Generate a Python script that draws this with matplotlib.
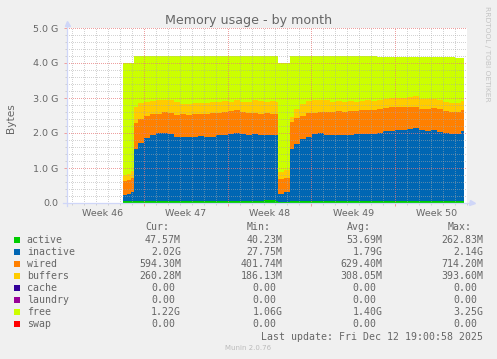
import matplotlib
matplotlib.use("Agg")
import matplotlib.pyplot as plt
from matplotlib.patches import Rectangle

# sample start times, days from the left edge of the graph (each value holds until the next one)
days = [4.75, 5.05, 5.35,
        5.67, 6.0, 6.5, 7.0, 7.5, 8.0, 8.5, 9.0, 9.5, 10.0, 10.5, 11.0, 11.5,
        12.0, 12.5, 13.0, 13.5, 14.0, 14.5, 15.0, 15.5, 16.0, 16.5, 17.0, 17.5,
        17.67, 18.17,
        18.67, 19.0, 19.5, 20.0, 20.5, 21.0, 21.5, 22.0, 22.5, 23.0, 23.5, 24.0,
        24.5, 25.0, 25.5, 26.0, 26.5, 27.0, 27.5, 28.0, 28.5, 29.0, 29.5, 30.0,
        30.5, 31.0, 31.5, 32.0, 32.5, 33.0]
last_day = 33.25

# values in G
active = [0.05, 0.05, 0.05,
          0.05, 0.05, 0.05, 0.05, 0.05, 0.05, 0.05, 0.05, 0.05, 0.05, 0.05, 0.05, 0.05,
          0.05, 0.05, 0.05, 0.05, 0.05, 0.05, 0.05, 0.05, 0.05, 0.10, 0.09, 0.05,
          0.04, 0.04,
          0.05, 0.05, 0.05, 0.05, 0.05, 0.05, 0.05, 0.05, 0.05, 0.05, 0.05, 0.05,
          0.05, 0.05, 0.05, 0.05, 0.05, 0.05, 0.05, 0.05, 0.05, 0.05, 0.05, 0.05,
          0.05, 0.05, 0.05, 0.05, 0.05, 0.05]
inactive = [0.18, 0.22, 0.27,
            1.50, 1.67, 1.80, 1.90, 1.95, 1.95, 1.93, 1.85, 1.84, 1.85, 1.83, 1.86, 1.84,
            1.85, 1.88, 1.89, 1.92, 1.95, 1.91, 1.90, 1.92, 1.90, 1.83, 1.85, 1.88,
            0.21, 0.28,
            1.50, 1.64, 1.77, 1.85, 1.91, 1.95, 1.90, 1.88, 1.89, 1.88, 1.90, 1.92,
            1.91, 1.93, 1.92, 1.95, 2.00, 2.02, 2.03, 2.04, 2.07, 2.09, 2.03, 2.01,
            2.05, 1.99, 1.94, 1.92, 1.91, 2.02]
wired = [0.40, 0.39, 0.40,
         0.74, 0.69, 0.63, 0.58, 0.55, 0.60, 0.59, 0.62, 0.64, 0.62, 0.66, 0.64, 0.64,
         0.66, 0.65, 0.66, 0.66, 0.65, 0.64, 0.63, 0.59, 0.60, 0.63, 0.61, 0.62,
         0.43, 0.40,
         0.76, 0.73, 0.68, 0.66, 0.62, 0.60, 0.65, 0.67, 0.68, 0.67, 0.68, 0.67,
         0.69, 0.68, 0.68, 0.68, 0.67, 0.67, 0.65, 0.65, 0.63, 0.60, 0.62, 0.64,
         0.62, 0.64, 0.63, 0.63, 0.64, 0.58]
buffers = [0.18, 0.18, 0.20,
           0.46, 0.44, 0.42, 0.39, 0.39, 0.35, 0.36, 0.36, 0.31, 0.31, 0.31, 0.32, 0.33,
           0.32, 0.32, 0.32, 0.27, 0.28, 0.29, 0.32, 0.37, 0.36, 0.34, 0.37, 0.35,
           0.22, 0.23,
           0.15, 0.28, 0.32, 0.36, 0.37, 0.35, 0.33, 0.30, 0.30, 0.30, 0.28, 0.26,
           0.27, 0.27, 0.26, 0.26, 0.26, 0.26, 0.26, 0.26, 0.29, 0.32, 0.27, 0.26,
           0.26, 0.25, 0.26, 0.26, 0.25, 0.26]
cache = [0.0] * len(days)
laundry = [0.0] * len(days)
free = [3.20, 3.16, 3.08,
        1.45, 1.35, 1.30, 1.28, 1.26, 1.25, 1.27, 1.32, 1.36, 1.37, 1.35, 1.33, 1.34,
        1.32, 1.30, 1.28, 1.30, 1.27, 1.31, 1.30, 1.27, 1.29, 1.30, 1.28, 1.30,
        3.10, 3.05,
        1.73, 1.49, 1.37, 1.27, 1.24, 1.24, 1.26, 1.29, 1.27, 1.29, 1.28, 1.29,
        1.27, 1.26, 1.28, 1.22, 1.18, 1.16, 1.17, 1.16, 1.12, 1.10, 1.19, 1.20,
        1.18, 1.23, 1.28, 1.30, 1.28, 1.22]
swap = [0.0] * len(days)

names = ["active", "inactive", "wired", "buffers", "cache", "laundry", "free", "swap"]
colors = ["#00cc00", "#0066b3", "#ff8000", "#ffcc00", "#330099", "#990099", "#ccff00", "#ff0000"]
cur = ["47.57M", "2.02G", "594.30M", "260.28M", "0.00", "0.00", "1.22G", "0.00"]
mins = ["40.23M", "27.75M", "401.74M", "186.13M", "0.00", "0.00", "1.06G", "0.00"]
avgs = ["53.69M", "1.79G", "629.40M", "308.05M", "0.00", "0.00", "1.40G", "0.00"]
maxs = ["262.83M", "2.14G", "714.20M", "393.60M", "0.00", "0.00", "3.25G", "0.00"]

week_labels = ["Week 46", "Week 47", "Week 48", "Week 49", "Week 50"]
ytick_labels = ["0.0", "1.0 G", "2.0 G", "3.0 G", "4.0 G", "5.0 G"]

W, H = 497.0, 359.0
def fx(x):
    return x / W
def fy(y):
    return 1 - y / H

font_c = "#666666"
axis_c = "#cfd6f8"
grid_c = "#a8a8a8"
mgrid_c = "#e87878"
dots = (0, (1, 1.6))

fig = plt.figure(figsize=(W / 100, H / 100), dpi=100)
fig.patch.set_facecolor("#f0f0f0")
ax = fig.add_axes([fx(66.7), fy(203), 400 / W, 175 / H])
ax.set_facecolor("white")
ax.set_xlim(0, 400 / 12.0)
ax.set_ylim(0, 5)
for s in ax.spines.values():
    s.set_visible(False)

# stacked areas
series = [active, inactive, wired, buffers, cache, laundry, free, swap]
xs = days + [last_day]
base = [0.0] * len(days)
for vals, col in zip(series, colors):
    top = [b + v for b, v in zip(base, vals)]
    ax.fill_between(xs, base + [base[-1]], top + [top[-1]], step="post",
                    color=col, lw=0, antialiased=False, zorder=1)
    base = top

# grid (drawn over the data like rrdtool)
week_lines = [6.47 + 7 * k for k in range(4)]
day_lines = [0.47 + k for k in range(34) if (k - 6) % 7 != 0]
for t in day_lines:
    ax.axvline(t, color=grid_c, alpha=0.5, lw=0.72, ls=dots, antialiased=False, zorder=2)
for t in week_lines:
    ax.axvline(t, color=mgrid_c, alpha=0.7, lw=0.72, ls=dots, antialiased=False, zorder=3)
ygrid_minor = [k * 0.2 for k in range(1, 25) if k % 5 != 0]
for v in ygrid_minor:
    ax.axhline(v, color=grid_c, alpha=0.5, lw=0.72, ls=dots, antialiased=False, zorder=2)
for v in range(1, 6):
    ax.axhline(v, color=mgrid_c, alpha=0.7, lw=0.72, ls=dots, antialiased=False,
               zorder=3, clip_on=False)

# ticks
ax.set_xticks(week_lines)
ax.set_xticks(day_lines, minor=True)
ax.set_xticklabels([])
ax.set_yticks(range(6))
ax.set_yticklabels(ytick_labels)
ax.set_yticks(ygrid_minor, minor=True)
ax.tick_params(axis="both", which="major", length=2.2, width=0.72, color="#f0a0a0",
               direction="out", labelsize=6.8, labelcolor=font_c, pad=3.6)
ax.tick_params(axis="both", which="minor", length=1.5, width=0.72, color="#d0d0d0",
               direction="out")
for t, lab in zip([2.97 + 7 * k for k in range(5)], week_labels):
    ax.annotate(lab, xy=(t, 0), xycoords=("data", "axes fraction"),
                xytext=(0, -9.1), textcoords="offset points",
                ha="center", va="baseline", fontsize=6.8, color=font_c)

# axes with arrows
ax.plot([0, 0], [-0.015, 1.025], transform=ax.transAxes, color=axis_c, lw=0.9,
        clip_on=False, zorder=5)
ax.plot([0], [1.03], transform=ax.transAxes, marker="^", ms=3.6, color=axis_c,
        clip_on=False, zorder=5)
ax.plot([-0.01, 1.005], [0, 0], transform=ax.transAxes, color=axis_c, lw=0.9,
        clip_on=False, zorder=5)
ax.plot([1.012], [0], transform=ax.transAxes, marker=">", ms=3.6, color=axis_c,
        clip_on=False, zorder=5)

# titles
fig.text(fx(248.5), fy(23.6), "Memory usage - by month", ha="center", va="baseline",
         fontsize=9.1, color=font_c)
fig.text(fx(11), fy(118), "Bytes", rotation=90, ha="center", va="center",
         fontsize=7.6, color=font_c)
fig.text(fx(487.5), fy(53.5), "RRDTOOL / TOBI OETIKER", rotation=270, ha="center",
         va="center", fontsize=5.4, color="#c4c4c4")

# legend table
mono = dict(family="DejaVu Sans Mono", fontsize=7.1, color=font_c, va="baseline")
cw = 5.93
col_ends = [181.0, 282.3, 382.7, 483.3]
for head, end in zip(["Cur:", "Min:", "Avg:", "Max:"], col_ends):
    fig.text(fx(end - 6 * cw), fy(230.5), head, ha="left", **mono)
for i, (nm, col) in enumerate(zip(names, colors)):
    yb = 242.8 + 12 * i
    fig.patches.append(Rectangle((fx(14), fy(yb)), 6 / W, 6 / H,
                                 transform=fig.transFigure, facecolor=col, lw=0))
    fig.text(fx(26.7), fy(yb), nm, ha="left", **mono)
    for vals, end in zip([cur, mins, avgs, maxs], col_ends):
        v = vals[i]
        xe = end if v[-1].isalpha() else end - cw
        fig.text(fx(xe), fy(yb), v, ha="right", **mono)
fig.text(fx(483.3), fy(339.5), "Last update: Fri Dec 12 19:00:58 2025", ha="right", **mono)
fig.text(fx(248.5), fy(350.5), "Munin 2.0.76", ha="center", va="baseline",
         fontsize=5, color="#bbbbbb")

fig.savefig("out.png", dpi=100, facecolor=fig.get_facecolor())
